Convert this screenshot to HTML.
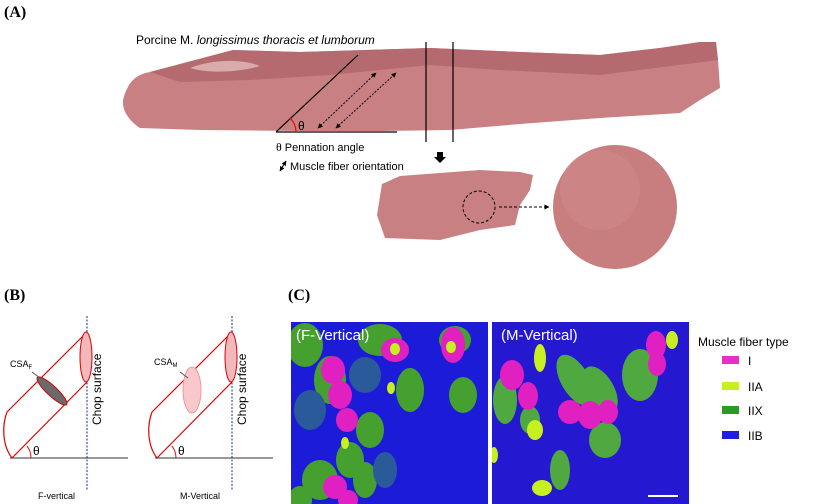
<!DOCTYPE html>
<html><head><meta charset="utf-8"><style>
body{margin:0;background:#fff}
svg{display:block}
text{font-family:"Liberation Sans",sans-serif}
.lb{font-family:"Liberation Serif",serif;font-weight:bold;font-size:16px}
</style></head><body>
<svg width="827" height="504" viewBox="0 0 827 504" xmlns="http://www.w3.org/2000/svg">
<defs>
<marker id="ah" viewBox="0 0 10 10" refX="9" refY="5" markerWidth="5" markerHeight="5" orient="auto-start-reverse"><path d="M0,0L10,5L0,10z" fill="#000"/></marker>
<clipPath id="cf"><rect x="291" y="322" width="197" height="182"/></clipPath>
<clipPath id="cm"><rect x="492" y="322" width="197" height="182"/></clipPath>
</defs>
<text x="4" y="17" class="lb">(A)</text>
<text x="4" y="300" class="lb">(B)</text>
<text x="288" y="300" class="lb">(C)</text>

<!-- loin -->
<path d="M123,100 C128,80 138,74 150,72 L233,50 L300,52 L430,48 L520,52 L600,55 L660,48 L700,42 L716,42 L718,60 L720,88 L700,100 L680,113 L600,118 L520,124 L450,130 L380,131 L300,131 L200,130 L140,128 C128,120 122,110 123,100Z" fill="#c98082"/>
<path d="M150,72 L233,50 L300,52 L430,48 L520,52 L600,55 L660,48 L700,42 L716,42 L718,60 L600,75 L500,70 L430,65 L330,75 L250,80 L180,82Z" fill="#b46a6e"/>
<path d="M190,68 C210,60 240,58 260,66 C240,72 210,74 190,68Z" fill="#e8c8c4" opacity=".7"/>
<!-- chop -->
<path d="M382,184 L400,176 L480,170 L520,172 L533,175 L530,190 L520,205 L515,225 L480,230 L440,240 L385,238 L377,215Z" fill="#c98082"/>
<circle cx="615" cy="207" r="62" fill="#c87d7e"/>
<circle cx="600" cy="190" r="40" fill="#d08c8c" opacity=".5"/>

<line x1="276" y1="132" x2="358" y2="55" stroke="#000" stroke-width="1.2"/>
<line x1="276" y1="132" x2="397" y2="132" stroke="#000" stroke-width="1.2"/>
<path d="M296,132 A20,20 0 0 0 290,118" fill="none" stroke="#e00" stroke-width="1.2"/>
<text x="298" y="130" font-family="Liberation Serif" font-size="12">θ</text>
<line x1="318" y1="128" x2="376" y2="73" stroke="#000" stroke-dasharray="2,1.5" marker-start="url(#ah)" marker-end="url(#ah)"/>
<line x1="336" y1="128" x2="396" y2="73" stroke="#000" stroke-dasharray="2,1.5" marker-start="url(#ah)" marker-end="url(#ah)"/>
<line x1="426" y1="42" x2="426" y2="142" stroke="#000" stroke-width="1.2"/>
<line x1="453" y1="42" x2="453" y2="142" stroke="#000" stroke-width="1.2"/>
<path d="M437,152 h6 v5 h3 l-6,6 l-6,-6 h3z" fill="#000"/>
<text x="136" y="44" font-size="12">Porcine M. <tspan font-style="italic">longissimus thoracis et lumborum</tspan></text>
<text x="276" y="151" font-size="11"><tspan font-family="Liberation Serif" font-size="12">θ</tspan>  Pennation angle</text>
<line x1="280" y1="171" x2="286" y2="161" stroke="#000" marker-start="url(#ah)" marker-end="url(#ah)"/>
<text x="290" y="170" font-size="11">Muscle fiber orientation</text>
<circle cx="479" cy="207" r="16" fill="none" stroke="#000" stroke-dasharray="3,2"/>
<line x1="499" y1="207" x2="549" y2="207" stroke="#000" stroke-dasharray="3,2" marker-end="url(#ah)"/>

<!-- B panel -->
<g id="cyl">
<line x1="10" y1="458" x2="128" y2="458" stroke="#333"/>
<line x1="87" y1="316" x2="87" y2="490" stroke="#1a2a9a" stroke-dasharray="2,1.5"/>
<line x1="7" y1="412" x2="86" y2="333" stroke="#d00" stroke-width="1.2"/>
<line x1="12" y1="458" x2="87" y2="382" stroke="#d00" stroke-width="1.2"/>
<path d="M7,412 C2,425 2,445 12,458" fill="none" stroke="#d00" stroke-width="1.2"/>
<ellipse cx="86" cy="357" rx="6" ry="25" fill="#f2b8bc" stroke="#d00"/>
<path d="M31,458 A20,20 0 0 0 27,446" fill="none" stroke="#e00"/>
<text x="33" y="455" font-family="Liberation Serif" font-size="12">θ</text>
<text transform="translate(101,425) rotate(-90)" font-size="12">Chop surface</text>
</g>
<ellipse cx="52" cy="391" rx="20" ry="5" transform="rotate(43 52 391)" fill="#6a6a6a" stroke="#d00"/>
<line x1="32" y1="372" x2="40" y2="378" stroke="#555"/>
<text x="10" y="367" font-size="9">CSA<tspan font-size="6" dy="2">F</tspan></text>
<text x="38" y="499" font-size="9">F-vertical</text>
<use href="#cyl" x="145"/>
<ellipse cx="192" cy="390" rx="9" ry="23" fill="#f8c8cc" stroke="#e99"/>
<line x1="180" y1="372" x2="188" y2="378" stroke="#555"/>
<text x="154" y="365" font-size="9">CSA<tspan font-size="6" dy="2">M</tspan></text>
<text x="180" y="499" font-size="9">M-Vertical</text>

<!-- C panel -->
<g clip-path="url(#cf)">
<rect x="291" y="322" width="197" height="182" fill="#1c1cd8"/>
<g fill="#46a030"><ellipse cx="305" cy="345" rx="18" ry="22"/><ellipse cx="330" cy="380" rx="16" ry="24"/><ellipse cx="380" cy="340" rx="22" ry="16"/><ellipse cx="410" cy="390" rx="14" ry="22"/><ellipse cx="455" cy="340" rx="16" ry="14"/><ellipse cx="463" cy="395" rx="14" ry="18"/><ellipse cx="370" cy="430" rx="14" ry="18"/><ellipse cx="350" cy="460" rx="14" ry="18"/><ellipse cx="320" cy="480" rx="18" ry="20"/><ellipse cx="300" cy="500" rx="12" ry="14"/><ellipse cx="365" cy="480" rx="12" ry="18"/></g>
<g fill="#2a5a9a"><ellipse cx="310" cy="410" rx="16" ry="20"/><ellipse cx="365" cy="375" rx="16" ry="18"/><ellipse cx="385" cy="470" rx="12" ry="18"/></g>
<g fill="#e020c0"><ellipse cx="333" cy="370" rx="12" ry="14"/><ellipse cx="340" cy="395" rx="12" ry="14"/><ellipse cx="347" cy="420" rx="11" ry="12"/><ellipse cx="395" cy="350" rx="14" ry="12"/><ellipse cx="453" cy="345" rx="12" ry="18"/><ellipse cx="335" cy="487" rx="12" ry="12"/><ellipse cx="348" cy="500" rx="10" ry="10"/></g>
<g fill="#c8f020"><ellipse cx="395" cy="349" rx="5" ry="6"/><ellipse cx="451" cy="347" rx="5" ry="6"/><ellipse cx="391" cy="388" rx="4" ry="6"/><ellipse cx="345" cy="443" rx="4" ry="6"/></g>
</g>
<g clip-path="url(#cm)">
<rect x="492" y="322" width="197" height="182" fill="#2418d0"/>
<g fill="#50a840"><ellipse cx="575" cy="380" rx="14" ry="28" transform="rotate(-30 575 380)"/><ellipse cx="600" cy="390" rx="14" ry="26" transform="rotate(-30 600 390)"/><ellipse cx="640" cy="375" rx="18" ry="26"/><ellipse cx="505" cy="400" rx="12" ry="24"/><ellipse cx="560" cy="470" rx="10" ry="20"/><ellipse cx="605" cy="440" rx="16" ry="18"/><ellipse cx="530" cy="420" rx="10" ry="14"/></g>
<g fill="#e020c0"><ellipse cx="512" cy="375" rx="12" ry="15"/><ellipse cx="528" cy="396" rx="10" ry="14"/><ellipse cx="570" cy="412" rx="12" ry="12"/><ellipse cx="590" cy="415" rx="12" ry="14"/><ellipse cx="608" cy="412" rx="10" ry="12"/><ellipse cx="656" cy="345" rx="10" ry="14"/><ellipse cx="657" cy="364" rx="9" ry="12"/></g>
<g fill="#c8f020"><ellipse cx="540" cy="358" rx="6" ry="14"/><ellipse cx="535" cy="430" rx="8" ry="10"/><ellipse cx="542" cy="488" rx="10" ry="8"/><ellipse cx="672" cy="340" rx="6" ry="9"/><ellipse cx="494" cy="455" rx="4" ry="8"/></g>
</g>
<line x1="648" y1="496" x2="678" y2="496" stroke="#fff" stroke-width="2"/>
<text x="296" y="340" font-size="15" fill="#fff">(F-Vertical)</text>
<text x="501" y="340" font-size="15" fill="#fff">(M-Vertical)</text>
<text x="698" y="346" font-size="12">Muscle fiber type</text>
<rect x="722" y="356" width="17" height="8" fill="#e830c8"/>
<rect x="722" y="382" width="17" height="8" fill="#c8f020"/>
<rect x="722" y="406" width="17" height="8" fill="#2a9a28"/>
<rect x="722" y="431" width="17" height="8" fill="#2020e0"/>
<text x="748" y="365" font-size="12">I</text>
<text x="748" y="391" font-size="12">IIA</text>
<text x="748" y="415" font-size="12">IIX</text>
<text x="748" y="440" font-size="12">IIB</text>
</svg>
</body></html>
